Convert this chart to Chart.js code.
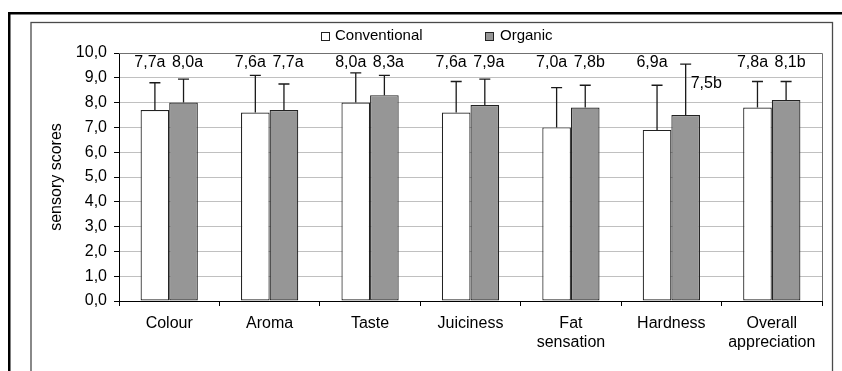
<!DOCTYPE html>
<html><head><meta charset="utf-8">
<script src="https://cdn.jsdelivr.net/npm/chart.js@4.4.0/dist/chart.umd.min.js"></script>
<style>html,body{margin:0;padding:0;background:#fff;overflow:hidden}#c{display:block}</style>
</head><body>
<canvas id="c" width="842" height="371"></canvas>
<script>
// ---- data ----
const categories = ['Colour', 'Aroma', 'Taste', 'Juiciness', ['Fat', 'sensation'], 'Hardness', ['Overall', 'appreciation']];
const seriesNames = ['Conventional', 'Organic'];
const conventional = [7.7, 7.6, 8.0, 7.6, 7.0, 6.9, 7.8];
const organic = [8.0, 7.7, 8.3, 7.9, 7.8, 7.5, 8.1];
const conventionalSD = [1.1, 1.5, 1.2, 1.25, 1.6, 1.8, 1.05];
const organicSD = [0.95, 1.05, 0.8, 1.05, 0.9, 2.05, 0.75];
const conventionalLetters = ['a', 'a', 'a', 'a', 'a', 'a', 'a'];
const organicLetters = ['a', 'a', 'a', 'a', 'b', 'b', 'b'];
const yMin = 0, yMax = 10, yStep = 1;
const yTitle = 'sensory scores';

const FONT = '"Liberation Sans", Arial, Helvetica, sans-serif';
Chart.defaults.font.family = FONT;
Chart.defaults.color = '#000';

const fmt = v => v.toFixed(1).replace('.', ',');

const framePlugin = {
  id: 'frame',
  beforeDraw(chart) {
    const ctx = chart.ctx;
    ctx.save();
    ctx.fillStyle = '#fff';
    ctx.fillRect(0, 0, chart.width, chart.height);
    // outer black border
    ctx.fillStyle = '#000';
    ctx.fillRect(8, 12, chart.width - 8, 2.5);
    ctx.fillRect(8, 12, 2.5, chart.height);
    // chart area frame
    ctx.strokeStyle = '#4a4a4a';
    ctx.lineWidth = 1.3;
    ctx.strokeRect(31, 22.5, 801.5, chart.height + 20);
    ctx.restore();
  },
  afterDraw(chart) {
    const ctx = chart.ctx, a = chart.chartArea;
    ctx.save();
    // plot-area border (top & right)
    ctx.strokeStyle = '#707070';
    ctx.lineWidth = 1;
    ctx.beginPath();
    ctx.moveTo(a.left, a.top + 0.5);
    ctx.lineTo(a.right + 0.5, a.top + 0.5);
    ctx.lineTo(a.right + 0.5, a.bottom);
    ctx.stroke();
    // legend
    const items = [
      {x: 321, tx: 335},
      {x: 485, tx: 500}
    ];
    ctx.font = '15px ' + FONT;
    ctx.textBaseline = 'middle';
    ctx.textAlign = 'left';
    chart.data.datasets.forEach((ds, i) => {
      const it = items[i];
      ctx.fillStyle = ds.backgroundColor;
      ctx.fillRect(it.x, 32, 8, 8);
      ctx.strokeStyle = '#222';
      ctx.lineWidth = 1;
      ctx.strokeRect(it.x + 0.5, 32.5, 8, 8);
      ctx.fillStyle = '#000';
      ctx.fillText(ds.label, it.tx, 36);
    });
    ctx.restore();
  }
};

const errorBarPlugin = {
  id: 'errbars',
  afterDatasetsDraw(chart) {
    const ctx = chart.ctx, y = chart.scales.y;
    chart.data.datasets.forEach((ds, i) => {
      const meta = chart.getDatasetMeta(i);
      meta.data.forEach((bar, j) => {
        const v = ds.data[j], hi = v + ds.sd[j];
        const top = y.getPixelForValue(hi);
        ctx.save();
        ctx.strokeStyle = '#1a1a1a';
        ctx.lineWidth = 1.3;
        ctx.beginPath();
        ctx.moveTo(bar.x, bar.y);
        ctx.lineTo(bar.x, top);
        ctx.moveTo(bar.x - 5.5, top);
        ctx.lineTo(bar.x + 5.5, top);
        ctx.stroke();
        const txt = fmt(v) + ds.letters[j];
        ctx.font = '16px ' + FONT;
        ctx.fillStyle = '#000';
        ctx.textBaseline = 'middle';
        if (hi > 9.4) {
          ctx.textAlign = 'left';
          ctx.fillText(txt, bar.x + 5, top + 19);
        } else {
          ctx.textAlign = 'center';
          ctx.fillText(txt, bar.x + (i === 0 ? -5 : 4), y.getPixelForValue(9.6));
        }
        ctx.restore();
      });
    });
  }
};

new Chart(document.getElementById('c'), {
  type: 'bar',
  data: {
    labels: categories,
    datasets: [
      {label: seriesNames[0], data: conventional, sd: conventionalSD, letters: conventionalLetters,
       backgroundColor: '#ffffff', borderColor: '#222', borderWidth: 1.2, borderSkipped: false},
      {label: seriesNames[1], data: organic, sd: organicSD, letters: organicLetters,
       backgroundColor: '#969696', borderColor: '#222', borderWidth: 1.2, borderSkipped: false}
    ]
  },
  options: {
    responsive: false,
    animation: false,
    devicePixelRatio: 1,
    layout: {padding: {left: 0, top: 53, right: 20, bottom: 0}},
    datasets: {bar: {categoryPercentage: 0.57, barPercentage: 1.0}},
    plugins: {legend: {display: false}, tooltip: {enabled: false}},
    scales: {
      x: {
        grid: {drawOnChartArea: false, tickLength: 5, tickColor: '#000', offset: true},
        border: {color: '#000', width: 1},
        ticks: {padding: 8, font: {size: 16}, color: '#000', maxRotation: 0, autoSkip: false},
        afterFit: s => { s.height = 70; }
      },
      y: {
        min: yMin, max: yMax,
        grid: {color: c => (c.tick && c.tick.value === yMax) ? '#707070' : '#c0c0c0', tickLength: 5, tickColor: '#000'},
        border: {color: '#000', width: 1},
        ticks: {stepSize: yStep, padding: 7, font: {size: 16}, color: '#000', callback: v => fmt(v)},
        title: {display: true, text: yTitle, font: {size: 16}, color: '#000', padding: {top: 47, bottom: 0}},
        afterFit: s => { s.width = 119; }
      }
    }
  },
  plugins: [framePlugin, errorBarPlugin]
});
</script>
</body></html>
